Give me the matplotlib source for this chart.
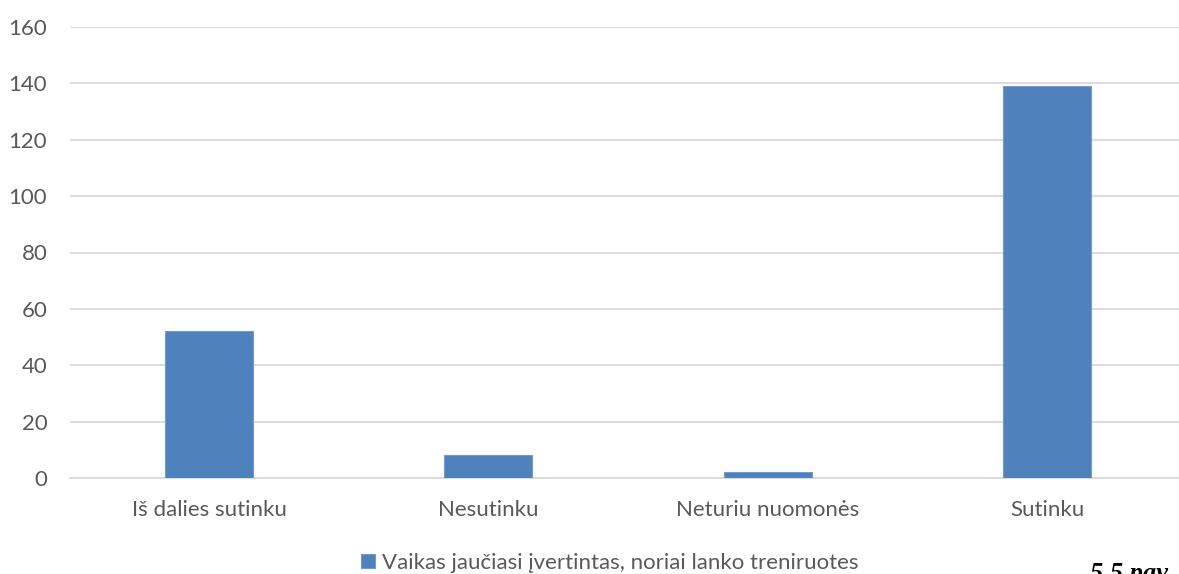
import matplotlib
matplotlib.use("Agg")
import matplotlib.pyplot as plt
import numpy as np

# Duomenys
kategorijos = ["Iš dalies sutinku", "Nesutinku", "Neturiu nuomonės", "Sutinku"]
reiksmes = [52, 8, 2, 139]
serija = "Vaikas jaučiasi įvertintas, noriai lanko treniruotes"
y_ticks = [0, 20, 40, 60, 80, 100, 120, 140, 160]

plt.rcParams['font.family'] = ['Lato', 'DejaVu Sans']
pilka = '#595959'
melyna = '#4f81bd'

fig = plt.figure(figsize=(11.79, 5.74), dpi=100)
ax = fig.add_axes([69.5 / 1179, 1 - 478 / 574, 1 - 69.5 / 1179, (478 - 27) / 574])

x = np.arange(len(kategorijos))
ax.bar(x, reiksmes, width=0.315, color=melyna, edgecolor='#6f9bd1', linewidth=0.8,
       label=serija, zorder=3)

ax.set_ylim(0, 160)
ax.set_xlim(-0.5, 3.5 - 7.7 / 279.3)
ax.set_yticks(y_ticks)
ax.set_xticks(x)
ax.set_xticklabels(kategorijos)
ax.grid(axis='y', color='#d9d9d9', linewidth=1.3, zorder=0)
ax.tick_params(axis='both', length=0, labelsize=16, colors=pilka)
ax.tick_params(axis='y', pad=16)
ax.tick_params(axis='x', pad=16)
for s in ['top', 'right', 'left']:
    ax.spines[s].set_visible(False)
ax.spines['bottom'].set_color('#d9d9d9')
ax.spines['bottom'].set_linewidth(1.3)

fig.legend(loc='center', bbox_to_anchor=(610 / 1179, 1 - 563 / 574), frameon=False,
           fontsize=16, labelcolor=pilka, handlelength=0.6, handleheight=0.6,
           handletextpad=0.35)

fig.text(1090 / 1179, -0.02, "5.5 pav.", fontsize=19, fontweight='bold', style='italic',
         family='Liberation Serif', ha='left', va='bottom')

fig.savefig("out.png", dpi=100)
